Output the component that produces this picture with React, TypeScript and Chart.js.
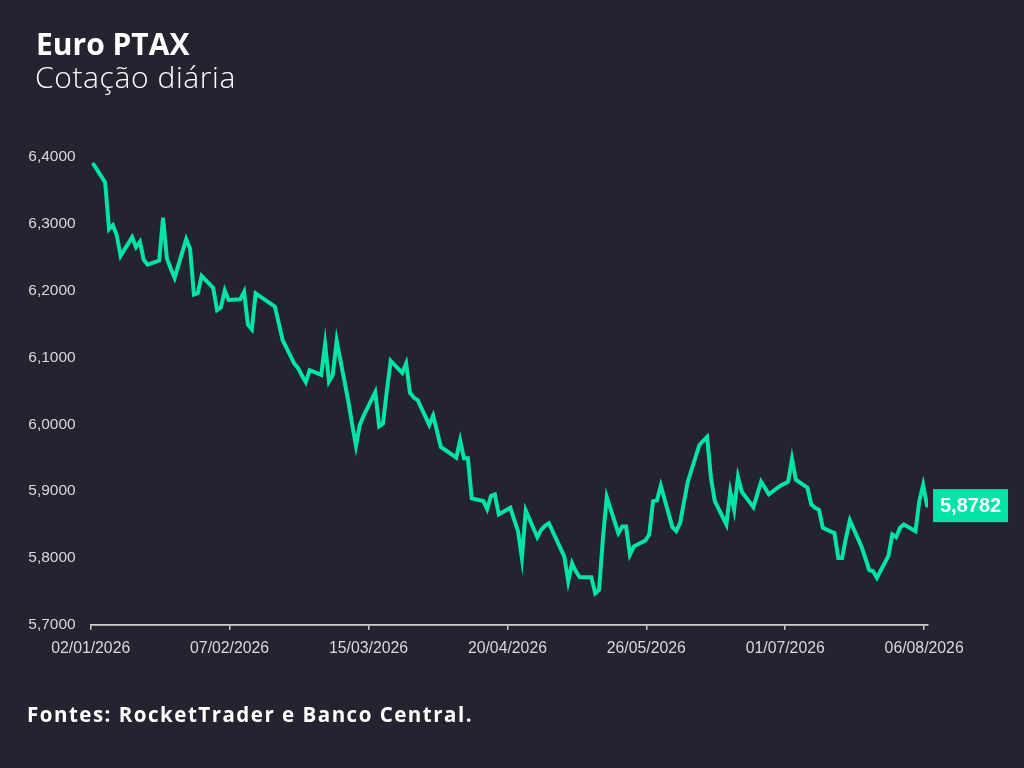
import React, { useEffect, useRef } from "react";
import { Chart, registerables } from "chart.js";

Chart.register(...registerables);

const TITLE = "Euro PTAX";
const SUBTITLE = "Cotação diária";
const SOURCE = "Fontes: RocketTrader e Banco Central.";
const YEAR = 2026;

const DATES = [
  "02/01", "05/01", "06/01", "07/01", "08/01", "09/01", "12/01", "13/01", "14/01", "15/01", "16/01",
  "19/01", "20/01", "21/01", "22/01", "23/01", "26/01", "27/01", "28/01", "29/01", "30/01",
  "02/02", "03/02", "04/02", "05/02", "06/02", "09/02", "10/02", "11/02", "12/02", "13/02",
  "18/02", "19/02", "20/02", "23/02", "24/02", "25/02", "26/02", "27/02",
  "02/03", "03/03", "04/03", "05/03", "06/03", "09/03", "10/03", "11/03", "12/03", "13/03",
  "16/03", "17/03", "18/03", "19/03", "20/03", "23/03", "24/03", "25/03", "26/03", "27/03",
  "30/03", "31/03", "01/04", "02/04", "06/04", "07/04", "08/04", "09/04", "10/04",
  "13/04", "14/04", "15/04", "16/04", "17/04", "20/04", "22/04", "23/04", "24/04",
  "27/04", "28/04", "29/04", "30/04", "04/05", "05/05", "06/05", "07/05", "08/05",
  "11/05", "12/05", "13/05", "14/05", "15/05", "18/05", "19/05", "20/05", "21/05", "22/05",
  "25/05", "26/05", "27/05", "28/05", "29/05", "01/06", "02/06", "03/06", "05/06",
  "08/06", "09/06", "10/06", "11/06", "12/06", "15/06", "16/06", "17/06", "18/06", "19/06",
  "22/06", "23/06", "24/06", "25/06", "26/06", "29/06", "30/06", "01/07", "02/07", "03/07",
  "06/07", "07/07", "08/07", "09/07", "10/07", "13/07", "14/07", "15/07", "16/07", "17/07",
  "20/07", "21/07", "22/07", "23/07", "24/07", "27/07", "28/07", "29/07", "30/07", "31/07",
  "03/08", "04/08", "05/08", "06/08",
];

const VALUES = [
  6.389, 6.362, 6.292, 6.298, 6.283, 6.252, 6.280, 6.265, 6.273, 6.246, 6.239,
  6.245, 6.309, 6.248, 6.233, 6.219, 6.277, 6.263, 6.194, 6.196, 6.222,
  6.204, 6.171, 6.175, 6.200, 6.186, 6.187, 6.198, 6.149, 6.142, 6.196,
  6.176, 6.151, 6.126, 6.091, 6.084, 6.073, 6.063, 6.081,
  6.074, 6.120, 6.064, 6.074, 6.125, 6.035, 6.000, 5.968, 5.999, 6.013,
  6.048, 5.997, 6.001, 6.050, 6.095, 6.077, 6.091, 6.047, 6.040, 6.036,
  5.999, 6.013, 5.990, 5.966, 5.950, 5.976, 5.949, 5.949, 5.889,
  5.885, 5.873, 5.893, 5.895, 5.865, 5.875, 5.840, 5.800, 5.871,
  5.831, 5.842, 5.848, 5.852, 5.802, 5.765, 5.792, 5.780, 5.771,
  5.771, 5.747, 5.752, 5.829, 5.891, 5.837, 5.847, 5.847, 5.805, 5.817,
  5.826, 5.835, 5.885, 5.886, 5.908, 5.846, 5.840, 5.852, 5.914,
  5.969, 5.975, 5.981, 5.920, 5.885, 5.850, 5.899, 5.872, 5.921, 5.899,
  5.876, 5.895, 5.914, 5.905, 5.895, 5.908, 5.911, 5.914, 5.948, 5.917,
  5.905, 5.880, 5.875, 5.872, 5.845, 5.837, 5.800, 5.800, 5.830, 5.856,
  5.817, 5.800, 5.782, 5.780, 5.770, 5.803, 5.835, 5.831, 5.845, 5.850,
  5.840, 5.885, 5.909, 5.8782,
];

const TICK_LABELS = ["02/01/2026", "07/02/2026", "15/03/2026", "20/04/2026", "26/05/2026", "01/07/2026", "06/08/2026"];
const Y_MIN = 5.7;
const Y_MAX = 6.4;
const Y_STEP = 0.1;

const BG = "#242430";
const LINE = "#02e4a7";
const TEXT = "#d9d9d9";

const DAY_MS = 86400000;
const ORIGIN = Date.UTC(YEAR, 0, 2);
const QUOTE_TIME_OFFSET = 0.75; // quotes stamped late in the day

function dayOf(ddmm: string, year = YEAR): number {
  const [d, m] = ddmm.split("/").map(Number);
  return (Date.UTC(year, m - 1, d) - ORIGIN) / DAY_MS;
}
function tickDay(label: string): number {
  const [d, m, y] = label.split("/").map(Number);
  return (Date.UTC(y, m - 1, d) - ORIGIN) / DAY_MS;
}
function fmtDay(v: number): string {
  const dt = new Date(ORIGIN + Math.round(v) * DAY_MS);
  const dd = String(dt.getUTCDate()).padStart(2, "0");
  const mm = String(dt.getUTCMonth() + 1).padStart(2, "0");
  return `${dd}/${mm}/${dt.getUTCFullYear()}`;
}
const fmtNum = (v: number, n = 4) => v.toFixed(n).replace(".", ",");

const lastLabelPlugin = {
  id: "lastLabel",
  afterDatasetsDraw(chart: any) {
    const meta = chart.getDatasetMeta(0);
    const pts = meta.data;
    if (!pts || !pts.length) return;
    const p = pts[pts.length - 1];
    const v = VALUES[VALUES.length - 1];
    const ctx = chart.ctx;
    ctx.save();
    const w = 75;
    const h = 33;
    const x = p.x + 6;
    const y = p.y - h / 2;
    ctx.fillStyle = LINE;
    ctx.fillRect(x, y, w, h);
    ctx.fillStyle = "#ffffff";
    ctx.font = "bold 20px 'Liberation Sans', Arial, sans-serif";
    ctx.textAlign = "center";
    ctx.textBaseline = "middle";
    ctx.fillText(fmtNum(v), x + w / 2, p.y + 1);
    ctx.restore();
  },
};

export default function App() {
  const ref = useRef<HTMLCanvasElement | null>(null);

  useEffect(() => {
    if (!ref.current) return;
    const data = DATES.map((d, i) => ({ x: dayOf(d) + QUOTE_TIME_OFFSET, y: VALUES[i] }));
    const tickDays = TICK_LABELS.map(tickDay);
    const chart = new Chart(ref.current, {
      type: "line",
      data: {
        datasets: [
          {
            data,
            borderColor: LINE,
            borderWidth: 4,
            pointRadius: 0,
            tension: 0,
            borderCapStyle: "round",
            borderJoinStyle: "miter",
          },
        ],
      },
      plugins: [lastLabelPlugin],
      options: {
        responsive: false,
        animation: false,
        devicePixelRatio: 1,
        layout: { padding: { left: 0, right: 96, top: 157, bottom: 83.3 } },
        plugins: { legend: { display: false }, tooltip: { enabled: false } },
        scales: {
          x: {
            type: "linear",
            min: 0,
            max: 217,
            afterBuildTicks: (s: any) => {
              s.ticks = tickDays.map((v) => ({ value: v }));
            },
            afterFit: (s: any) => {
              s.height = 60;
            },
            grid: {
              display: true,
              drawOnChartArea: false,
              drawTicks: true,
              tickLength: 5,
              color: "#cfcfcf",
              lineWidth: 1.5,
            },
            border: { display: true, color: "#cfcfcf", width: 1.8 },
            ticks: {
              color: TEXT,
              padding: 9,
              maxRotation: 0,
              autoSkip: false,
              font: { family: "'Liberation Sans', Arial, sans-serif", size: 15.8 },
              callback: (v: any) => fmtDay(Number(v)),
            },
          },
          y: {
            min: Y_MIN,
            max: Y_MAX,
            afterFit: (s: any) => {
              s.width = 90.7;
            },
            grid: { display: false, drawTicks: false },
            border: { display: false },
            ticks: {
              stepSize: Y_STEP,
              color: TEXT,
              padding: 15,
              font: { family: "'Liberation Sans', Arial, sans-serif", size: 15.5 },
              callback: (v: any) => fmtNum(Number(v)),
            },
          },
        },
      },
    } as any);
    return () => chart.destroy();
  }, []);

  return (
    <div
      style={{
        position: "fixed",
        left: 0,
        top: 0,
        width: 1024,
        height: 768,
        background: BG,
        overflow: "hidden",
      }}
    >
      <canvas ref={ref} width={1024} height={768} style={{ position: "absolute", left: 0, top: 0, width: 1024, height: 768 }} />
      <div
        style={{
          position: "absolute",
          left: 36,
          top: 29.4,
          fontFamily: "'Open Sans', sans-serif",
          fontWeight: 700,
          fontSize: 30,
          lineHeight: "30px",
          color: "#ffffff",
          whiteSpace: "nowrap",
        }}
      >
        {TITLE}
      </div>
      <div
        style={{
          position: "absolute",
          left: 35,
          top: 62.4,
          fontFamily: "'Open Sans', sans-serif",
          fontWeight: 300,
          fontSize: 30,
          lineHeight: "30px",
          letterSpacing: 0.6,
          color: "#ffffff",
          whiteSpace: "nowrap",
        }}
      >
        {SUBTITLE}
      </div>
      <div
        style={{
          position: "absolute",
          left: 27,
          top: 704.1,
          fontFamily: "'Open Sans', sans-serif",
          fontWeight: 700,
          fontSize: 20.5,
          lineHeight: "20.5px",
          letterSpacing: 1.5,
          color: "#ffffff",
          whiteSpace: "nowrap",
        }}
      >
        {SOURCE}
      </div>
    </div>
  );
}
